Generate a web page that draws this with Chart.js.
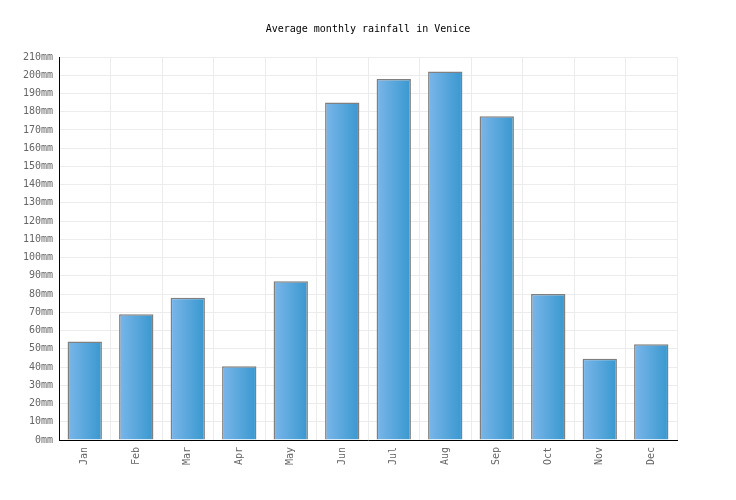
<!DOCTYPE html>
<html>
<head>
<meta charset="utf-8">
<script src="https://cdn.jsdelivr.net/npm/chart.js@4.4.1/dist/chart.umd.min.js"></script>
<style>
  html, body { margin: 0; padding: 0; background: #fff; }
  #wrap { width: 736px; height: 500px; }
</style>
</head>
<body>
<div id="wrap"><canvas id="c" width="736" height="500"></canvas></div>
<script>
const months = ["Jan","Feb","Mar","Apr","May","Jun","Jul","Aug","Sep","Oct","Nov","Dec"];
const rainfall = [54, 69, 78, 40.5, 87, 185, 198, 202, 177.5, 80, 44.5, 52.5];
const yTicks = [0,10,20,30,40,50,60,70,80,90,100,110,120,130,140,150,160,170,180,190,200,210];
const titleText = "Average monthly rainfall in Venice";

const FONT = "'DejaVu Sans Mono', 'Liberation Mono', monospace";
const BAR_PCT = 0.667;

function barGradient(ctx) {
  const chart = ctx.chart;
  const area = chart.chartArea;
  const xs = chart.scales.x;
  if (!area || !xs || ctx.dataIndex === undefined) return '#5aa8dc';
  const cx = xs.getPixelForValue(ctx.dataIndex);
  const w = (area.right - area.left) / months.length * BAR_PCT;
  const g = chart.ctx.createLinearGradient(cx - w / 2, 0, cx + w / 2, 0);
  g.addColorStop(0, '#7bb6ea');
  g.addColorStop(1, '#3898cf');
  return g;
}

new Chart(document.getElementById('c'), {
  type: 'bar',
  data: {
    labels: months,
    datasets: [{
      data: rainfall,
      backgroundColor: barGradient,
      borderColor: '#7f7f7f',
      borderWidth: 1.5,
      borderSkipped: 'bottom',
      barPercentage: BAR_PCT,
      categoryPercentage: 1,
      yAxisID: 'y'
    }]
  },
  options: {
    responsive: false,
    animation: false,
    devicePixelRatio: 1,
    layout: { padding: 0 },
    plugins: {
      legend: { display: false },
      tooltip: { enabled: false },
      title: {
        display: true,
        text: titleText,
        color: '#000',
        font: { family: FONT, size: 10, weight: 'normal' },
        padding: { top: 23, bottom: 22 }
      }
    },
    scales: {
      x: {
        grid: { color: '#ececec', offset: true, drawTicks: false },
        border: { color: '#000', width: 1 },
        ticks: {
          color: '#666',
          font: { family: FONT, size: 10 },
          maxRotation: 90,
          minRotation: 90,
          padding: 7
        },
        afterFit: (s) => { s.height = 60; }
      },
      y: {
        position: 'left',
        min: 0,
        max: 210,
        afterBuildTicks: (s) => { s.ticks = yTicks.map(v => ({ value: v })); },
        grid: { color: '#ececec', drawTicks: false },
        border: { color: '#000', width: 1 },
        ticks: {
          color: '#666',
          font: { family: FONT, size: 10 },
          padding: 6,
          callback: (v) => v + 'mm'
        },
        afterFit: (s) => { s.width = 59; }
      },
      yRight: {
        position: 'right',
        min: 0,
        max: 210,
        grid: { display: false, drawTicks: false },
        border: { display: false },
        ticks: { display: false },
        afterFit: (s) => { s.width = 59; }
      }
    }
  }
});
</script>
</body>
</html>
